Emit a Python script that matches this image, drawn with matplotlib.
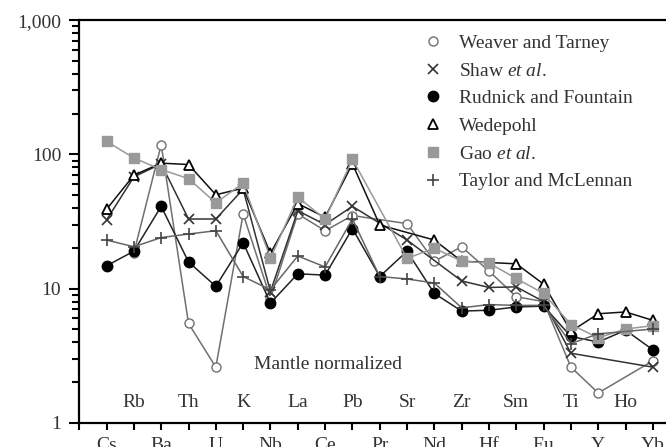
import numpy as np
import matplotlib
matplotlib.use("Agg")
import matplotlib.pyplot as plt
from matplotlib.lines import Line2D

plt.rcParams['font.family'] = ['Liberation Serif', 'DejaVu Serif']
plt.rcParams['mathtext.fontset'] = 'custom'
plt.rcParams['mathtext.rm'] = 'Liberation Serif'
plt.rcParams['mathtext.it'] = 'Liberation Serif:italic'

nan = np.nan
elements = ["Cs", "Rb", "Ba", "Th", "U", "K", "Nb", "La", "Ce", "Pb", "Pr",
            "Sr", "Nd", "Zr", "Hf", "Sm", "Eu", "Ti", "Y", "Ho", "Yb"]

weaver = [nan, 18.5, 118, 5.5, 2.6, 36, 8.5, 36, 27, 35, nan,
          30.5, 16, 20.5, 13.5, 8.7, 8.0, 2.6, 1.67, nan, 2.9]
shaw = [32.5, 68, 85, 33, 33, 55, 9.5, 38, 30, 41, nan,
        23, nan, 11.4, 10.2, 10.3, 8.0, 3.3, nan, nan, 2.6]
rudnick = [14.8, 19, 41, 15.8, 10.4, 22, 7.8, 12.9, 12.6, 28, 12.3,
           19, 9.2, 6.8, 6.9, 7.3, 7.4, 4.4, 4.0, 4.9, 3.5]
wedepohl = [39, 70, 86, 84, 50, 56, 18.3, 43, 34, 85, 29.8,
            nan, 23, 16, nan, 15.3, 10.8, 4.8, 6.5, 6.7, 5.8]
gao = [125, 94, 77, 66, 43.5, 61, 16.8, 48, 33, 92, nan,
       16.8, 20, 16, 15.5, 11.9, 9.2, 5.4, 4.3, 5.0, 5.3]
taylor = [23, 20.5, 24, 25.5, 27, 12.3, 9.8, 17.5, 14.5, 33, 12.3,
          11.8, 11, 7.2, 7.6, 7.5, 7.5, 3.9, 4.6, nan, 5.0]

series = [
    ("Weaver and Tarney", weaver, "#707070",
     dict(marker="o", mfc="white", mec="#707070", ms=6.5, mew=1.0)),
    (r"Shaw $\it{et\ al.}$", shaw, "#333333",
     dict(marker="x", mec="#333333", ms=6.5, mew=1.2)),
    ("Rudnick and Fountain", rudnick, "#222222",
     dict(marker="o", mfc="black", mec="black", ms=7.5)),
    ("Wedepohl", wedepohl, "#111111",
     dict(marker="^", mfc="white", mec="black", ms=7.5, mew=1.3)),
    (r"Gao $\it{et\ al.}$", gao, "#999999",
     dict(marker="s", mfc="#999999", mec="#999999", ms=7)),
    ("Taylor and McLennan", taylor, "#666666",
     dict(marker="+", mec="#444444", ms=8.5, mew=1.2)),
]

fig = plt.figure(figsize=(6.66, 4.47), dpi=100)
ax = fig.add_axes([0.119, 0.054, 0.881, 0.901])

x = np.arange(1, len(elements) + 1)
handles = []
for label, vals, col, st in series:
    v = np.array(vals, dtype=float)
    m = ~np.isnan(v)
    ax.plot(x[m], v[m], lw=1.1, color=col, **st)
    handles.append(Line2D([], [], linestyle="none", label=label, **st))

ax.set_yscale("log")
ax.set_ylim(1, 1000)
ax.set_xlim(0, 21.48)
ax.set_yticks([1, 10, 100, 1000])
ax.set_yticklabels(["1", "10", "100", "1,000"], fontsize=14, color="#333333")
ax.tick_params(axis="y", which="major", direction="out", length=7, width=1.5, pad=6)
ax.tick_params(axis="y", which="minor", direction="out", length=5, width=1.5)

ax.set_xticks(np.arange(0, len(elements) + 1))
ax.set_xticklabels([""] + [e if i % 2 == 0 else "" for i, e in enumerate(elements)],
                   fontsize=14, color="#333333")
ax.tick_params(axis="x", direction="out", length=5, width=1.5, pad=5)
for i, e in enumerate(elements):
    if i % 2 == 1:
        ax.text(x[i], 0.05, e, transform=ax.get_xaxis_transform(),
                ha="center", va="center", fontsize=14, color="#333333")

ax.text(0.424, 0.144, "Mantle normalized", transform=ax.transAxes,
        ha="center", va="center", fontsize=14, color="#333333")

for s in ["top", "left", "bottom"]:
    ax.spines[s].set_linewidth(1.6)
ax.spines["right"].set_visible(False)

leg = ax.legend(handles=handles, loc="upper left", bbox_to_anchor=(0.586, 0.965),
                frameon=False, fontsize=14, handlelength=1.0, handletextpad=0.84,
                labelspacing=0.52, borderaxespad=0, borderpad=0)
for t in leg.get_texts():
    t.set_color("#333333")

fig.savefig("out.png", dpi=100)
